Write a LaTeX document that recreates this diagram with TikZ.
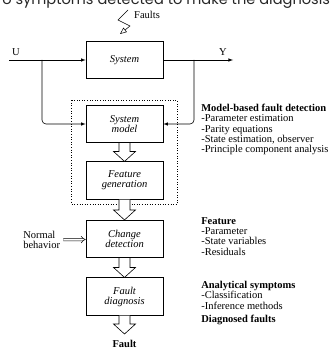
\documentclass[tikz,border=0pt]{standalone}
\usepackage{fontspec}
\setmainfont{Liberation Serif}
\newfontfamily\slidefont{Poppins}
\usepackage{tikz}
\usetikzlibrary{fit}
\usetikzlibrary{arrows}

% hollow block arrow between two boxes
\newcommand{\hollowdown}[2]{%
  \draw[fill=white] ([xshift=-5.5pt]#1.south) -- ([xshift=-5.5pt,yshift=10pt]#2.north) -- ([xshift=-11pt,yshift=10pt]#2.north) -- (#2.north) -- ([xshift=11pt,yshift=10pt]#2.north) -- ([xshift=5.5pt,yshift=10pt]#2.north) -- ([xshift=5.5pt]#1.south);}

\begin{document}
\begin{tikzpicture}[x=1pt, y=-1pt, line width=0.6pt, font=\fontsize{10.5}{10.3}\selectfont]
    \tikzset{ blk/.style={draw=black, minimum width=77pt, minimum height=37.5pt, align=center, inner sep=1pt, font=\fontsize{10.5}{10}\selectfont\itshape } }
    \tikzset{ note/.style={anchor=north west, align=left, inner sep=0pt } }

    \useasboundingbox (0,0) rectangle (332,350);
    \clip (0,0) rectangle (332,350);

    \node[anchor=base west, inner sep=0pt, font=\slidefont\fontsize{14.6}{14.6}\selectfont, text=black!85] (slide) at (2,4.5) {o symptoms detected to make the diagnosis};

    \node[blk] (sys) at (124.5, 60.0) {System};
    \node[blk] (sm)  at (124.5,124.0) {System\\model};
    \node[blk] (fg)  at (124.5,180.5) {Feature\\generation};
    \node[blk] (cd)  at (124.5,239.0) {Change\\detection};
    \node[blk] (fd)  at (124.5,296.5) {Fault\\diagnosis};
    \node[anchor=north, inner sep=0pt, inner ysep=6pt, font=\fontsize{10.5}{10}\selectfont\bfseries] (fault) at (124.5,334) {Fault};

    \node[draw=black, dotted, inner xsep=14pt, inner ysep=4.5pt, fit=(sm) (fg)] (mbox) {};

    \node (ulab) at (16,52) {U};
    \node (ylab) at (223,52) {Y};
    \node (flt)  at (147,15) {Faults};
    \node[anchor=west, align=left, inner sep=0pt, font=\fontsize{10.5}{10}\selectfont] (nb) at (23,240) {Normal\\behavior};

    \coordinate (uin)  at (9,60);
    \coordinate (ubr)  at (42,60);
    \coordinate (yout) at (233,60);
    \coordinate (ybr)  at (194,60);
    \coordinate (fs)   at (128,10);
    \coordinate (fe)   at (120,34);

    \draw[-latex] (uin) -- (sys.west);
    \draw[-latex] (sys.east) -- (yout);
    \draw[-latex, rounded corners=4pt] (ubr) |- (sm.west);
    \draw[-latex, rounded corners=4pt] (ybr) |- (sm.east);
    \draw[-open triangle 45, line width=0.5pt] (fs) -- (118,20) -- (130,26) -- (fe);
    \draw[double, double distance=2pt, line width=0.5pt, -implies, shorten <=3pt] (nb) -- (cd);

    \hollowdown{sm}{fg}
    \hollowdown{fg}{cd}
    \hollowdown{cd}{fd}
    \hollowdown{fd}{fault}

    \node[note] (mbf) at (201,104) {\textbf{Model-based fault detection}\\-Parameter estimation\\-Parity equations\\-State estimation, observer\\-Principle component analysis};
    \node[note] (feat) at (201,217) {\textbf{Feature}\\-Parameter\\-State variables\\-Residuals};
    \node[note] (asym) at (201,281) {\textbf{Analytical symptoms}\\-Classification\\-Inference methods};
    \node[note] (dflt) at (201,315) {\textbf{Diagnosed faults}};
\end{tikzpicture}
\end{document}
